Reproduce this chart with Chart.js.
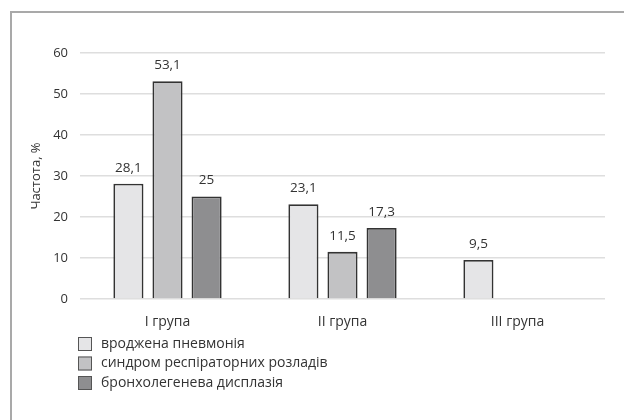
<!DOCTYPE html>
<html>
<head>
<meta charset="utf-8">
<script src="https://cdn.jsdelivr.net/npm/chart.js@4/dist/chart.umd.min.js"></script>
<style>
  html, body { margin: 0; padding: 0; background: #fff; }
  #wrap { position: relative; width: 624px; height: 420px; }
</style>
</head>
<body>
<div id="wrap"><canvas id="c" width="624" height="420"></canvas></div>
<script>
// Групи пацієнтів
const groups = ['I група', 'II група', 'III група'];
// Назви нозологій
const seriesNames = ['вроджена пневмонія', 'синдром респіраторних розладів', 'бронхолегенева дисплазія'];
// Частота, %
const pneumonia = [28.1, 23.1, 9.5];
const respiratory = [53.1, 11.5, null];
const dysplasia = [25, 17.3, null];
// Поділки осі Y
const yTicks = [0, 10, 20, 30, 40, 50, 60];

const FONT = '"Open Sans", "DejaVu Sans", sans-serif';
const fills = ['#e5e5e7', '#c2c2c4', '#8e8e90'];
const seriesValues = [pneumonia, respiratory, dysplasia];

const fmt = v => String(v).replace('.', ',');

// Рамка навколо малюнка
const framePlugin = {
  id: 'frame',
  beforeDraw(chart) {
    const ctx = chart.ctx;
    ctx.save();
    ctx.strokeStyle = '#a9a9a9';
    ctx.lineWidth = 2;
    ctx.beginPath();
    ctx.moveTo(11, 420);
    ctx.lineTo(11, 12);
    ctx.lineTo(624, 12);
    ctx.stroke();
    ctx.restore();
  }
};

// Підписи значень над стовпчиками
const valueLabels = {
  id: 'valueLabels',
  afterDatasetsDraw(chart) {
    const ctx = chart.ctx;
    ctx.save();
    ctx.font = '13.5px ' + FONT;
    ctx.fillStyle = '#333';
    ctx.textAlign = 'center';
    ctx.textBaseline = 'middle';
    chart.data.datasets.forEach((ds, di) => {
      const meta = chart.getDatasetMeta(di);
      meta.data.forEach((bar, i) => {
        const v = ds.data[i];
        if (v === null || v === undefined) return;
        ctx.fillText(fmt(v), bar.x, bar.y - 16);
      });
    });
    ctx.restore();
  }
};

// Вертикальна легенда під графіком
const stackedLegend = {
  id: 'stackedLegend',
  afterDraw(chart) {
    const ctx = chart.ctx;
    ctx.save();
    ctx.font = '14px ' + FONT;
    ctx.textBaseline = 'middle';
    chart.data.datasets.forEach((ds, i) => {
      const cy = 344 + i * 19.5;
      ctx.fillStyle = ds.backgroundColor;
      ctx.fillRect(78, cy - 7, 14, 14);
      ctx.strokeStyle = '#555';
      ctx.lineWidth = 1;
      ctx.strokeRect(78.5, cy - 6.5, 13, 13);
      ctx.fillStyle = '#333';
      ctx.fillText(ds.label, 101, cy);
    });
    ctx.restore();
  }
};

new Chart(document.getElementById('c'), {
  type: 'bar',
  data: {
    labels: groups,
    datasets: seriesNames.map((name, i) => ({
      label: name,
      data: seriesValues[i],
      backgroundColor: fills[i],
      borderColor: '#333',
      borderWidth: 1.8,
      barPercentage: 0.77,
      categoryPercentage: 0.67
    }))
  },
  options: {
    responsive: false,
    animation: false,
    devicePixelRatio: 1,
    layout: { padding: { top: 53, left: 28, right: 19, bottom: 86 } },
    plugins: {
      legend: { display: false },
      tooltip: { enabled: false }
    },
    scales: {
      x: {
        grid: { display: false, drawTicks: false },
        border: { display: false },
        ticks: { font: { family: FONT, size: 14 }, color: '#333', padding: 15 },
        afterFit(scale) { scale.height = 35; }
      },
      y: {
        min: 0,
        max: 60,
        afterBuildTicks(scale) { scale.ticks = yTicks.map(v => ({ value: v })); },
        grid: { color: '#dedede', lineWidth: 1.6, drawTicks: false },
        border: { display: false },
        ticks: { font: { family: FONT, size: 13 }, color: '#333', padding: 12 },
        title: {
          display: true,
          text: 'Частота, %',
          font: { family: FONT, size: 13 },
          color: '#333',
          padding: { top: 0, bottom: 0 }
        },
        afterFit(scale) { scale.width = 52; }
      }
    }
  },
  plugins: [framePlugin, valueLabels, stackedLegend]
});
</script>
</body>
</html>
